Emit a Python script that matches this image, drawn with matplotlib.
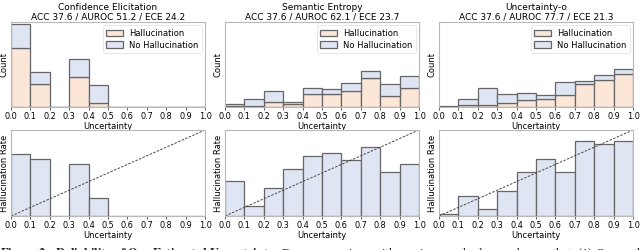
import matplotlib
matplotlib.use("Agg")
import matplotlib.pyplot as plt
import numpy as np
from matplotlib.patches import Patch

plt.rcParams["mathtext.fontset"] = "stix"

# ---- data ----
bin_edges = [0.0, 0.1, 0.2, 0.3, 0.4, 0.5, 0.6, 0.7, 0.8, 0.9, 1.0]
methods = ["Confidence Elicitation", "Semantic Entropy", "Uncertainty-o"]
acc = [37.6, 37.6, 37.6]
auroc = [51.2, 62.1, 77.7]
ece = [24.2, 23.7, 21.3]

halluc_ce = [177, 68, 0, 88, 13, 0, 0, 0, 0, 0]
nohall_ce = [71, 35, 0, 56, 53, 0, 0, 0, 0, 0]
halluc_se = [4, 3, 16, 9, 40, 38, 47, 86, 34, 57]
nohall_se = [6, 22, 33, 7, 18, 15, 25, 21, 33, 36]
halluc_uo = [1, 6, 5, 12, 22, 24, 37, 67, 79, 97]
nohall_uo = [2, 18, 52, 28, 21, 13, 36, 10, 15, 15]

rate_ce = [0.716, 0.66, 0.0, 0.607, 0.21, 0, 0, 0, 0, 0]
rate_se = [0.41, 0.12, 0.32, 0.55, 0.70, 0.73, 0.65, 0.805, 0.51, 0.61]
rate_uo = [0.02, 0.23, 0.086, 0.29, 0.51, 0.66, 0.51, 0.875, 0.84, 0.87]

xticks = [0.0, 0.1, 0.2, 0.3, 0.4, 0.5, 0.6, 0.7, 0.8, 0.9, 1.0]

hall_list = [halluc_ce, halluc_se, halluc_uo]
nohall_list = [nohall_ce, nohall_se, nohall_uo]
rate_list = [rate_ce, rate_se, rate_uo]

# ---- style ----
C_HALL = "#fbe6d8"
C_NO = "#dfe5f2"
EDGE = "#666666"
SPINE = "#b8b8b8"

W, H = 640, 250
fig = plt.figure(figsize=(6.4, 2.5), dpi=100)

lefts = [11, 225, 439]
axw = 194
edges = np.array(bin_edges)
widths = np.diff(edges)
lefts_bins = edges[:-1]

ymax = max(max(np.add(h, n)) for h, n in zip(hall_list, nohall_list)) * 1.02

def style(ax):
    for s in ax.spines.values():
        s.set_color(SPINE)
        s.set_linewidth(0.8)
    ax.set_xlim(0, 1)
    ax.set_xticks(xticks)
    ax.set_xticklabels([f"{t:.1f}" for t in xticks], fontsize=5.9)
    ax.set_yticks([])
    ax.tick_params(axis="x", length=2.5, width=0.6, pad=1.2, color="#444444")
    ax.set_xlabel("Uncertainty", fontsize=6.0, labelpad=0.5)

for i in range(3):
    l = lefts[i] / W
    # top
    ax = fig.add_axes([l, 1 - 107 / H, axw / W, 85 / H])
    h = np.array(hall_list[i])
    n = np.array(nohall_list[i])
    ax.bar(lefts_bins, h, width=widths, align="edge", color=C_HALL,
           edgecolor=EDGE, linewidth=0.9)
    ax.bar(lefts_bins, n, width=widths, bottom=h, align="edge", color=C_NO,
           edgecolor=EDGE, linewidth=0.9)
    ax.set_ylim(0, ymax)
    style(ax)
    ax.set_ylabel("Count", fontsize=6.0, labelpad=1.5)
    ax.set_title(f"{methods[i]}\nACC {acc[i]} / AUROC {auroc[i]} / ECE {ece[i]}",
                 fontsize=6.5, pad=2, linespacing=1.1)
    handles = [Patch(facecolor=C_HALL, edgecolor=EDGE, linewidth=0.9),
               Patch(facecolor=C_NO, edgecolor=EDGE, linewidth=0.9)]
    leg = ax.legend(handles, ["Hallucination", "No Hallucination"],
                    loc="upper right", fontsize=6.0, frameon=True,
                    handlelength=2.0, handleheight=0.8, borderpad=0.4,
                    labelspacing=0.35, handletextpad=0.7, fancybox=True,
                    borderaxespad=0.4)
    leg.get_frame().set_edgecolor("#dddddd")
    leg.get_frame().set_linewidth(0.6)

    # bottom
    ax2 = fig.add_axes([l, 1 - 216 / H, axw / W, 86 / H])
    r = np.array(rate_list[i])
    ax2.bar(lefts_bins, r, width=widths, align="edge", color=C_NO,
            edgecolor=EDGE, linewidth=0.9)
    ax2.plot([0, 1], [0, 1], linestyle=(0, (2.5, 1.5)), color="#444444", linewidth=0.7)
    ax2.set_ylim(0, 1)
    style(ax2)
    ax2.set_ylabel("Hallucination Rate", fontsize=6.0, labelpad=1.5)

# partially visible caption at bottom edge
fig.text(0.0, 1 - 245.5 / H,
         r"$\mathbf{Figure\ 2:\ Reliability\ of\ Our\ Estimated\ Uncertainty.}$"
         " For a comparison with previous methods, we observe that: (1) Our methods",
         fontsize=9, family="Liberation Serif", va="top", ha="left", color="#222222")

fig.savefig("out.png", dpi=100)
